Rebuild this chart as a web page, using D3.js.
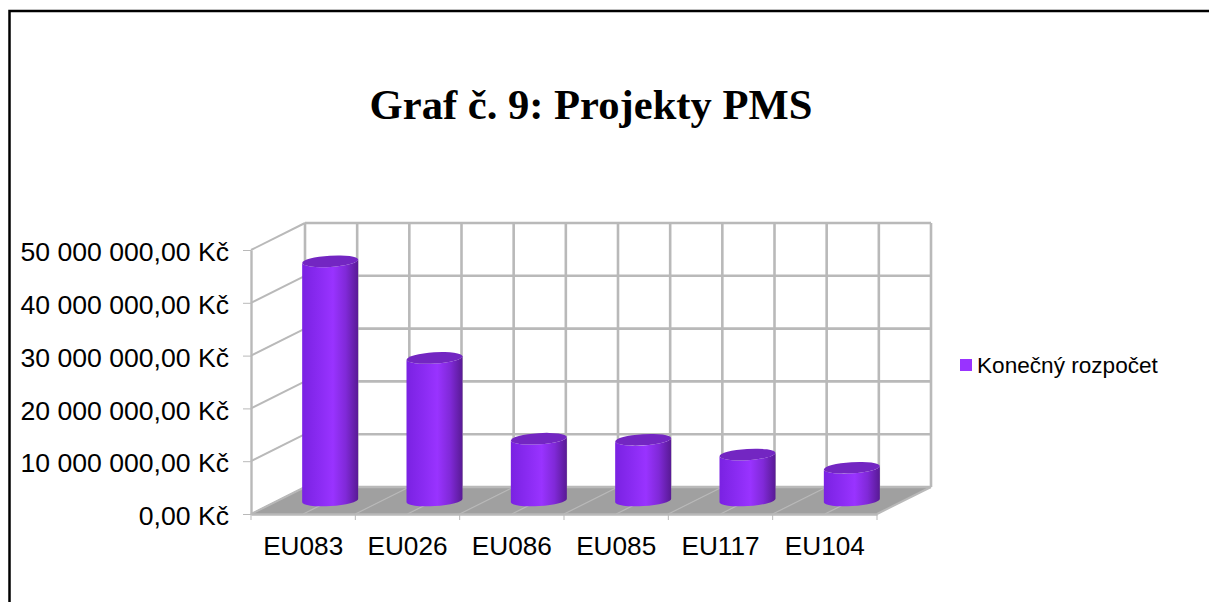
<!DOCTYPE html>
<html>
<head>
<meta charset="utf-8">
<script src="https://cdn.jsdelivr.net/npm/d3@7"></script>
<style>
html,body{margin:0;padding:0;background:#fff;overflow:hidden;}
svg{display:block;}
text{font-family:"Liberation Sans",Arial,sans-serif;fill:#000;}
</style>
</head>
<body>
<svg width="1209" height="602"></svg>
<script>
// data
const categories=["EU083","EU026","EU086","EU085","EU117","EU104"];
const budget=[45300000,27000000,11700000,11500000,8700000,6200000];
const yTicks=[0,10000000,20000000,30000000,40000000,50000000];
const seriesName="Konečný rozpočet";
const chartTitle="Graf č. 9: Projekty PMS";

const svg=d3.select("svg");
const gridColor="#b9b9b9";

// front plane of the 3d box, back plane is shifted by depth
const plot={left:251,right:877,top:250,bottom:514};
const depth={x:54,y:-27};

const x=d3.scaleBand().domain(categories).range([plot.left,plot.right]);
const y=d3.scaleLinear().domain([0,50000000]).range([plot.bottom,plot.top]);

const cz=d3.formatLocale({decimal:",",thousands:" ",grouping:[3],currency:["","\u00a0Kč"]});
const fmt=cz.format("$,.2f");

// gradient for the cylinder side
const defs=svg.append("defs");
const grad=defs.append("linearGradient").attr("id","cyl");
[[0,"#7a22e2"],[0.3,"#8a2bf2"],[0.55,"#9933ff"],[0.78,"#8029d8"],[1,"#581a94"]].forEach(function(s){
    grad.append("stop").attr("offset",s[0]).attr("stop-color",s[1]);
});

// outer border, only top and left are visible
svg.append("path")
    .attr("d","M9.5,602V11H1209")
    .attr("fill","none")
    .attr("stroke","#000")
    .attr("stroke-width",2.5);

svg.append("text")
    .attr("x",591)
    .attr("y",119)
    .attr("text-anchor","middle")
    .style("font-family","'Liberation Serif',serif")
    .style("font-weight","bold")
    .style("font-size","42.6px")
    .text(chartTitle);

// floor
svg.append("path")
    .attr("d",d3.line()([
        [plot.left,plot.bottom],[plot.right,plot.bottom],
        [plot.right+depth.x,plot.bottom+depth.y],[plot.left+depth.x,plot.bottom+depth.y]
    ])+"Z")
    .attr("fill","#a0a0a0");

const grid=svg.append("g")
    .attr("stroke",gridColor)
    .attr("stroke-width",2.6)
    .attr("fill","none");

// horizontal lines on back wall + side wall
yTicks.forEach(function(t){
    grid.append("line")
        .attr("x1",plot.left+depth.x).attr("x2",plot.right+depth.x)
        .attr("y1",y(t)+depth.y).attr("y2",y(t)+depth.y);
    grid.append("line")
        .attr("x1",plot.left).attr("x2",plot.left+depth.x)
        .attr("y1",y(t)).attr("y2",y(t)+depth.y)
        .attr("stroke-width",2);
});

// vertical lines on the back wall, and floor lines, every half category
d3.range(0,categories.length*2+1).forEach(function(i){
    const px=plot.left+i*x.step()/2;
    grid.append("line")
        .attr("x1",px+depth.x).attr("x2",px+depth.x)
        .attr("y1",plot.top+depth.y).attr("y2",plot.bottom+depth.y);
    if(i<categories.length*2){
        grid.append("line")
            .attr("x1",px).attr("x2",px+depth.x)
            .attr("y1",plot.bottom).attr("y2",plot.bottom+depth.y)
            .attr("stroke-width",1.2);
    }
});
// right edge of the floor
grid.append("line")
    .attr("x1",plot.right).attr("x2",plot.right+depth.x)
    .attr("y1",plot.bottom).attr("y2",plot.bottom+depth.y)
    .attr("stroke-width",2);

// axes
const yAxis=d3.axisLeft(y).tickValues(yTicks).tickFormat(fmt).tickSize(8).tickPadding(14).tickSizeOuter(0);
const yG=svg.append("g").attr("transform","translate("+plot.left+",0)").call(yAxis);
yG.select(".domain").attr("stroke",gridColor).attr("stroke-width",2.4);
yG.selectAll(".tick line").attr("stroke",gridColor).attr("stroke-width",1);
yG.selectAll("text").style("font-size","26.6px").style("font-family","'Liberation Sans',Arial,sans-serif").attr("dy","0.4em");

const xAxis=d3.axisBottom(x).tickSize(0).tickPadding(22);
const xG=svg.append("g").attr("transform","translate(0,"+plot.bottom+")").call(xAxis);
xG.select(".domain").attr("stroke",gridColor).attr("stroke-width",2.4);
xG.selectAll("text").style("font-size","26.2px").style("font-family","'Liberation Sans',Arial,sans-serif");
xG.selectAll("g.edge")
    .data(d3.range(0,categories.length+1))
    .enter().append("line")
    .attr("x1",function(d){return plot.left+d*x.step();})
    .attr("x2",function(d){return plot.left+d*x.step();})
    .attr("y1",0).attr("y2",6)
    .attr("stroke",gridColor).attr("stroke-width",1);

// cylinders
const rx=28,ry=5.6,tilt=-3.6;
const slope=Math.tan(tilt*Math.PI/180)*rx;
const bars=svg.append("g").selectAll("g")
    .data(categories.map(function(c,i){return {name:c,value:budget[i]};}))
    .enter().append("g");

bars.append("path")
    .attr("fill","url(#cyl)")
    .attr("d",function(d){
        const cx=x(d.name)+x.bandwidth()/2+depth.x/2;
        const yb=y(0)+depth.y/2;
        const yt=y(d.value)+depth.y/2;
        const arc="A"+rx+","+ry+" "+tilt+" 0 ";
        return "M"+(cx-rx)+","+(yt-slope)+
            "L"+(cx-rx)+","+(yb-slope)+
            arc+"0 "+(cx+rx)+","+(yb+slope)+
            "L"+(cx+rx)+","+(yt+slope)+
            arc+"1 "+(cx-rx)+","+(yt-slope)+"Z";
    });

bars.append("ellipse")
    .attr("rx",rx)
    .attr("ry",ry)
    .attr("fill","#7326c2")
    .attr("transform",function(d){
        const cx=x(d.name)+x.bandwidth()/2+depth.x/2;
        const yt=y(d.value)+depth.y/2;
        return "translate("+cx+","+yt+") rotate("+tilt+")";
    });

// legend
const legend=svg.append("g").attr("transform","translate(960,359)");
legend.append("rect").attr("width",12).attr("height",12).attr("fill","#9933ff");
legend.append("text").attr("x",17).attr("y",14).style("font-size","22.6px").text(seriesName);
</script>
</body>
</html>
